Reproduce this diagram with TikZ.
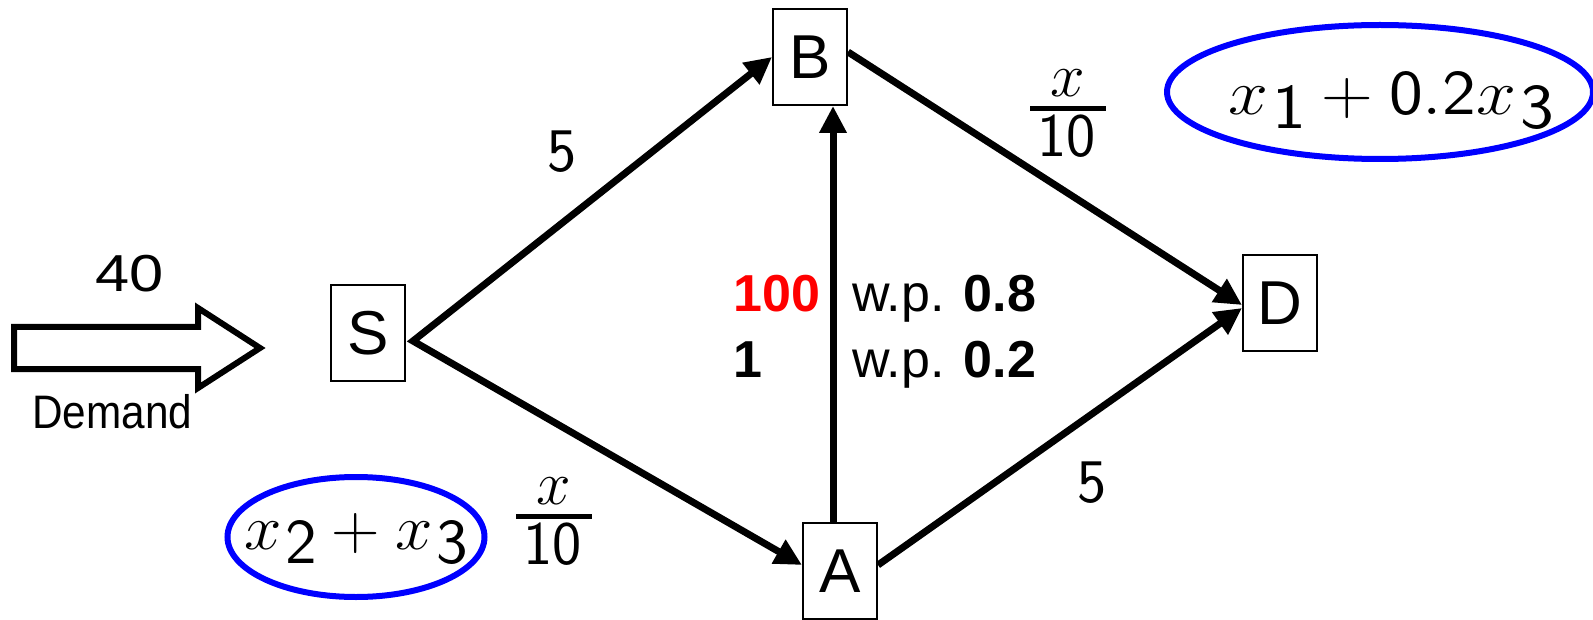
\documentclass[tikz,border=0pt]{standalone}
\usepackage{fix-cm}
\usepackage{graphicx}
\usepackage{amsmath}
\usepackage{fontspec}
\newfontfamily\arial{Liberation Sans}
\usetikzlibrary{arrows.meta,shapes.geometric}
\newcommand{\xfrac}{\genfrac{}{}{4.5pt}{1}{\raise3pt\hbox{$x$}}{\mkern3mu\textstyle\mathsf{10}\mkern3mu}}
\newcommand{\lowsub}[1]{\mkern1mu\lower14pt\hbox{$\mathsf{#1}$}}
\begin{document}
\begin{tikzpicture}[x=1pt,y=-1pt,
  box/.style={draw,line width=2pt,minimum width=74pt,minimum height=96pt,inner sep=0pt,font=\arial\fontsize{62}{62}\selectfont},
  tipa/.tip={Triangle[length=27pt,width=26pt]},
  edge/.style={line width=7pt,-tipa},
  oval/.style={ellipse,draw=blue,line width=6pt,inner sep=0pt},
  mth/.style={anchor=base,inner sep=0pt,font=\fontsize{62}{62}\selectfont},
  mthb/.style={anchor=base,inner sep=0pt,font=\fontsize{64}{64}\selectfont},
  lbl/.style={anchor=base west,inner sep=0pt,font=\arial\fontsize{52}{52}\selectfont}]
\useasboundingbox (0,0) rectangle (1593,620);
% nodes
\node[box] (S) at (368,333) {S};
\node[box] (B) at (810,57) {B};
\node[box] (D) at (1280,303) {D};
\node[box] (A) at (840,571) {A};
\coordinate (sp) at ([shift={(7pt,-8pt)}]S.east);
% connectors
\draw[line width=7pt,line join=miter,tipa-tipa] (B.west) -- (sp) -- ([yshift=6pt]A.west);
\draw[edge] ([xshift=-7pt]A.north) -- ([xshift=23pt]B.south);
\draw[edge] ([yshift=6pt]A.east) -- ([yshift=-5pt]D.west);
\draw[edge] ([yshift=5pt]B.east) -- ([yshift=-2pt]D.west);
% demand arrow
\draw[line width=6pt,line join=miter] (14,327) -- (198,327) -- (198,308) -- (260,348) -- (198,388) -- (198,369) -- (14,369) -- cycle;
\node[anchor=base,inner sep=0pt,font=\arial\fontsize{52}{52}\selectfont] (forty) at (130,292) {\scalebox{1.18}[1]{40}};
\node[anchor=base west,inner sep=0pt,font=\arial\fontsize{47}{47}\selectfont] (dem) at (32,428) {\scalebox{0.9}[1]{Demand}};
% edge labels
\node[mth] (w1) at (562,172) {$\mathsf{5}$};
\node[mth] (w2) at (1092,502) {$\mathsf{5}$};
\node[mth] (f1) at (1068,124) {$\xfrac$};
\node[mth] (f2) at (554,532) {$\xfrac$};
\node[lbl,text=red] (p1) at (733,312) {\bfseries 100};
\node[lbl] (p2) at (733,377) {\bfseries 1};
\node[lbl] (q1) at (852,312) {w.p. \textbf{0.8}};
\node[lbl] (q2) at (852,377) {w.p. \textbf{0.2}};
% ellipses
\node[oval,minimum width=257pt,minimum height=120pt] (e2) at (356,537) {};
\node[mthb] (t2) at (356,549) {\scalebox{1.05}[1]{$x\lowsub{2}+x\lowsub{3}$}};
\node[oval,minimum width=426pt,minimum height=134pt] (e1) at (1380,92) {};
\node[mthb] (t1) at (1391,115) {\scalebox{1.12}[1]{$x\lowsub{1}+\mathsf{0.2}x\lowsub{3}$}};
\end{tikzpicture}
\end{document}
